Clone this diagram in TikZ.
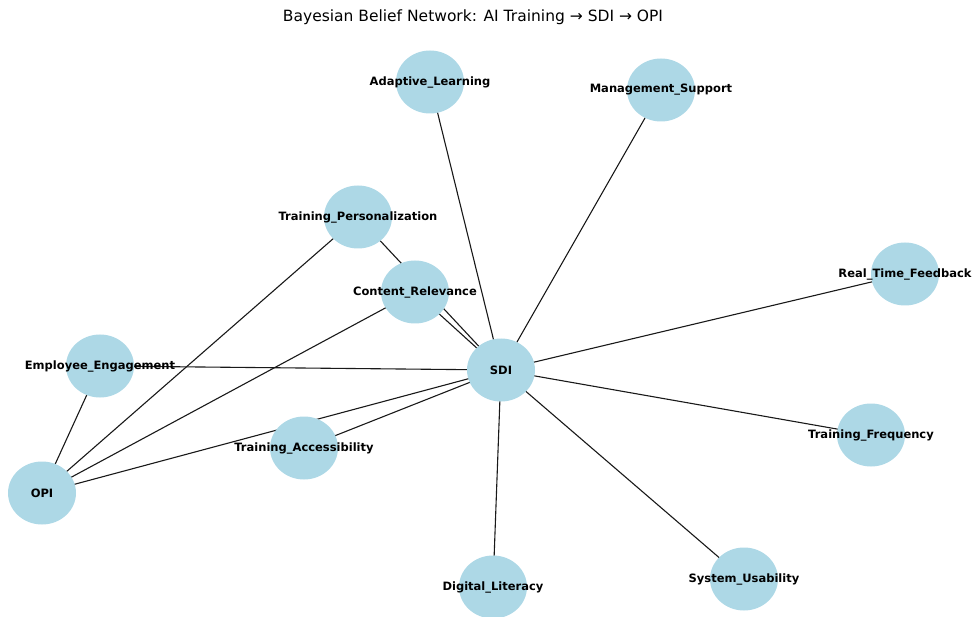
\documentclass[tikz,border=0pt]{standalone}
\usepackage{fontspec}
\setmainfont{DejaVu Sans}
\usetikzlibrary{shapes.geometric, backgrounds}
\definecolor{nodeBlue}{RGB}{173,216,230}

\begin{document}
\begin{tikzpicture}[
    x=1pt, y=-1pt,
    font=\fontsize{11.5}{13}\selectfont,
    vertex/.style={ellipse, fill=nodeBlue, draw=none, minimum width=68pt, minimum height=63pt, inner sep=0pt},
    lbl/.style={font=\fontsize{11.5}{13}\selectfont\bfseries},
    edge/.style={draw=black!90, line width=1.1pt}
]
    \useasboundingbox (0,0) rectangle (974,617);
    \node[font=\fontsize{15.5}{18}\selectfont] (title) at (473,17) {Bayesian Belief Network: AI Training → SDI → OPI};

    \node[vertex, label={[lbl]center:Adaptive\_Learning}] (adapt) at (430,82) {};
    \node[vertex, label={[lbl]center:Management\_Support}] (mgmt) at (661,90) {};
    \node[vertex, label={[lbl]center:Training\_Personalization}] (pers) at (358,217) {};
    \node[vertex, label={[lbl]center:Content\_Relevance}] (content) at (415,292) {};
    \node[vertex, label={[lbl]center:Real\_Time\_Feedback}] (feedback) at (905,274) {};
    \node[vertex, label={[lbl]center:SDI}] (sdi) at (501,370) {};
    \node[vertex, label={[lbl]center:Employee\_Engagement}] (engage) at (100,366) {};
    \node[vertex, label={[lbl]center:Training\_Frequency}] (freq) at (871,435) {};
    \node[vertex, label={[lbl]center:Training\_Accessibility}] (access) at (304,448) {};
    \node[vertex, label={[lbl]center:OPI}] (opi) at (42,493) {};
    \node[vertex, label={[lbl]center:Digital\_Literacy}] (digital) at (493,587) {};
    \node[vertex, label={[lbl]center:System\_Usability}] (usab) at (744,579) {};

    \begin{scope}[on background layer]
        \foreach \n in {adapt, mgmt, pers, content, feedback, engage, freq, access, opi, digital, usab}
            \draw[edge] (sdi.center) -- (\n.center);
        \foreach \n in {engage, pers, content}
            \draw[edge] (opi.center) -- (\n.center);
    \end{scope}
\end{tikzpicture}
\end{document}
